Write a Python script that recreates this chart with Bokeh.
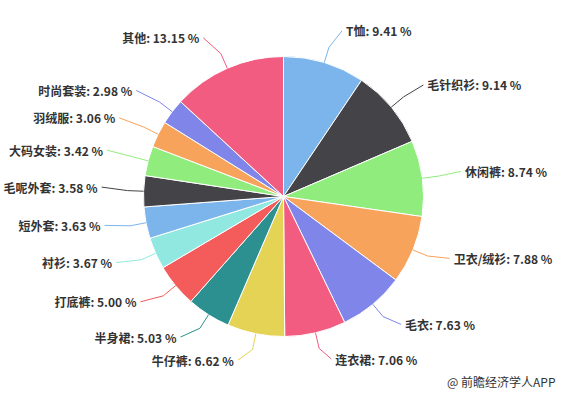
import math
from bokeh.plotting import figure
from bokeh.models import Range1d, ColumnDataSource
from bokeh.embed import file_html
from bokeh.resources import INLINE
from bokeh.core.properties import value

names = ["T恤", "毛针织衫", "休闲裤", "卫衣/绒衫", "毛衣", "连衣裙", "牛仔裤", "半身裙",
         "打底裤", "衬衫", "短外套", "毛呢外套", "大码女装", "羽绒服", "时尚套装", "其他"]
values = [9.41, 9.14, 8.74, 7.88, 7.63, 7.06, 6.62, 5.03,
          5.00, 3.67, 3.63, 3.58, 3.42, 3.06, 2.98, 13.15]
colors = ["#7cb5ec", "#434348", "#90ed7d", "#f7a35c", "#8085e9", "#f15c80", "#e4d354", "#2b908f",
          "#f45b5b", "#91e8e1", "#7cb5ec", "#434348", "#90ed7d", "#f7a35c", "#8085e9", "#f15c80"]

PH = 394  # reference pixel height, used to flip y
cx, cy_pix, r = 283, 196, 140
cy = PH - cy_pix
R_lab = 170

p = figure(width=561, height=394, x_range=Range1d(0, 561), y_range=Range1d(0, 394),
           output_backend="svg", toolbar_location=None, min_border=0,
           x_axis_location=None, y_axis_location=None)
p.grid.visible = False
p.outline_line_color = None
p.background_fill_color = "white"

total = sum(values)
starts, ends = [], []
cum = 0.0
for v in values:
    starts.append(math.pi / 2 - 2 * math.pi * cum / total)
    cum += v
    ends.append(math.pi / 2 - 2 * math.pi * cum / total)

src = ColumnDataSource(dict(start=starts, end=ends, color=colors))
p.wedge(x=cx, y=cy, radius=r, start_angle="start", end_angle="end", direction="clock",
        fill_color="color", line_color="white", line_width=1, source=src)

lx_r, ly_r, lt_r = [], [], []
lx_l, ly_l, lt_l = [], [], []
cxs, cys, ccol = [], [], []
for s, e, n, v, c in zip(starts, ends, names, values, colors):
    mid = (s + e) / 2
    ca, sa = math.cos(mid), math.sin(mid)
    x0, y0 = cx + r * ca, cy + r * sa
    x1, y1 = cx + (r + 16) * ca, cy + (r + 16) * sa
    xe, ye = cx + R_lab * ca, cy + R_lab * sa
    label = f"{n}: {v:.2f} %"
    if ca >= 0:
        tx = xe + 13
        lx_r.append(tx); ly_r.append(ye + 3); lt_r.append(label)
        xend = tx - 4
    else:
        tx = xe - 16
        lx_l.append(tx); ly_l.append(ye + 3); lt_l.append(label)
        xend = tx + 4
    cxs.append([x0, x1, xend]); cys.append([y0, y1, ye + 3]); ccol.append(c)

p.multi_line(xs=cxs, ys=cys, line_color=ccol, line_width=1)

common = dict(text_baseline="middle", text_font=value("Noto Sans CJK SC"),
              text_font_style="bold", text_font_size="12px", text_color="#333333")
p.text(x=lx_r, y=ly_r, text=lt_r, text_align="left", **common)
p.text(x=lx_l, y=ly_l, text=lt_l, text_align="right", **common)

p.text(x=[555], y=[PH - 381], text=["@ 前瞻经济学人APP"], text_align="right",
       text_baseline="middle", text_font=value("Noto Sans CJK SC"),
       text_font_size="12px", text_color="#333333")

open("out.html", "w").write(file_html(p, INLINE))
